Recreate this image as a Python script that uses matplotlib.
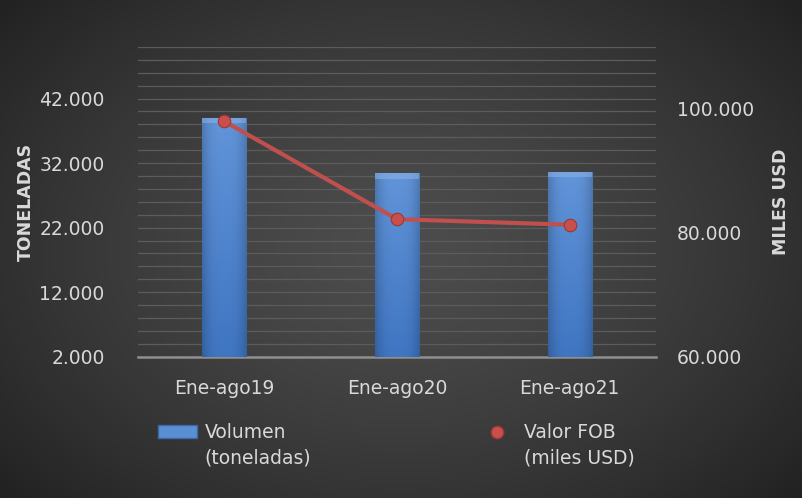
import numpy as np
import matplotlib
matplotlib.use("Agg")
import matplotlib.pyplot as plt
from matplotlib.ticker import FixedLocator, FuncFormatter
from matplotlib.lines import Line2D
from matplotlib.patches import Rectangle

categories = ["Ene-ago19", "Ene-ago20", "Ene-ago21"]
volumen = [39000, 30400, 30600]          # toneladas
valor_fob = [98000, 82200, 81300]        # miles USD
left_ticks = [2000, 12000, 22000, 32000, 42000]
right_ticks = [60000, 80000, 100000]

TXT = "#d9d9d9"
RED = "#c0504d"
FS = 13.5
plt.rcParams["font.family"] = ["DejaVu Sans"]


def miles(v, pos=None):
    return f"{int(round(v)):,}".replace(",", ".")


fig = plt.figure(figsize=(8.02, 4.98), dpi=100)

# radial dark gradient background
bg = fig.add_axes([0, 0, 1, 1], zorder=-10)
yy, xx = np.mgrid[-1:1:300j, -1:1:480j]
r = np.clip(np.sqrt((xx * 0.95) ** 2 + (yy * 0.85) ** 2), 0, 1.4)
shade = 0.30 - 0.12 * r ** 1.4
bg.imshow(np.dstack([shade] * 3), extent=[0, 1, 0, 1], aspect="auto")
bg.axis("off")

ax = fig.add_axes([0.172, 0.2837, 0.646, 0.622])
ax.set_facecolor("none")
x = np.arange(len(categories))
bars = ax.bar(x, volumen, width=0.255, color="#4f86cf",
              edgecolor="#3563a3", linewidth=0.8, zorder=3)

# soft gradient inside each bar (lighter on top)
grad = np.linspace(0, 1, 50)
gx = 1 - 0.18 * np.abs(np.linspace(-1, 1, 30)) ** 3
top = np.array([0.38, 0.58, 0.85])
bot = np.array([0.25, 0.46, 0.76])
for b in bars:
    img = top[None, None, :] * (1 - grad[:, None, None]) + bot[None, None, :] * grad[:, None, None]
    img = img * gx[None, :, None]
    im = ax.imshow(np.clip(img, 0, 1), origin="upper",
                   extent=[b.get_x(), b.get_x() + b.get_width(), 2000, b.get_height()],
                   aspect="auto", zorder=3.5)
    im.set_clip_path(b)
    # bevel on top
    ax.add_patch(Rectangle((b.get_x(), b.get_height() - 800), b.get_width(), 800,
                           facecolor="#8db3e6", edgecolor="none", alpha=0.55, zorder=3.6))

ax.set_xlim(-0.5, 2.5)
ax.set_ylim(2000, 50000)
ax.yaxis.set_major_locator(FixedLocator(left_ticks))
ax.yaxis.set_minor_locator(FixedLocator(np.arange(2000, 50001, 2000)))
ax.yaxis.set_major_formatter(FuncFormatter(miles))
ax.grid(True, which="both", axis="y", color="#5c5c5c", linewidth=0.9, zorder=0)
ax.set_axisbelow(True)
ax.set_xticks(x)
ax.set_xticklabels(categories)
ax.tick_params(axis="x", length=0, pad=16, labelsize=FS, labelcolor=TXT)
ax.tick_params(axis="y", which="both", length=0, pad=24, labelsize=FS, labelcolor=TXT)
for s in ["top", "left", "right"]:
    ax.spines[s].set_visible(False)
ax.spines["bottom"].set_color("#8f8f8f")
ax.spines["bottom"].set_linewidth(1.8)
ax.set_ylabel("TONELADAS", color=TXT, fontsize=12.5, fontweight="bold", labelpad=3)

ax2 = ax.twinx()
ax2.plot(x, valor_fob, color=RED, linewidth=3, marker="o", markersize=9,
         markerfacecolor="#c8504c", markeredgecolor="#9e3633", markeredgewidth=0.8,
         zorder=5)
ax2.set_ylim(60000, 110000)
ax2.yaxis.set_major_locator(FixedLocator(right_ticks))
ax2.yaxis.set_major_formatter(FuncFormatter(miles))
ax2.tick_params(axis="y", length=0, pad=15, labelsize=FS, labelcolor=TXT)
for s in ax2.spines.values():
    s.set_visible(False)
ax2.set_ylabel("MILES USD", color=TXT, fontsize=12.5, fontweight="bold", labelpad=13)

# legend entries (handle aligned with first text line)
h_bar = Rectangle((0, 0), 1, 1, facecolor="#5a8fd6", edgecolor="#3a69a8")
h_pt = Line2D([], [], linestyle="none", marker="o", markersize=9,
              markerfacecolor="#c8504c", markeredgecolor="#9e3633")
entries = [(h_bar, "Volumen", "(toneladas)", 158 / 802),
           (h_pt, "Valor FOB", "(miles USD)", 477 / 802)]
legs = []
for h, l1, l2, lx in entries:
    lg = fig.legend([h], [l1], loc="upper left", bbox_to_anchor=(lx, 1 - 423 / 498),
                    frameon=False, borderpad=0, borderaxespad=0, handlelength=2.1,
                    handleheight=0.65, handletextpad=0.4, fontsize=FS, labelcolor=TXT)
    legs.append((lg, l2))

fig.canvas.draw()
rend = fig.canvas.get_renderer()
for lg, l2 in legs:
    t = lg.get_texts()[0]
    bb = t.get_window_extent(rend)
    fig.text(bb.x0 / fig.bbox.width, (bb.y0 - 25) / fig.bbox.height, l2,
             color=TXT, fontsize=FS, ha="left", va="bottom")

fig.savefig("out.png", dpi=100)
